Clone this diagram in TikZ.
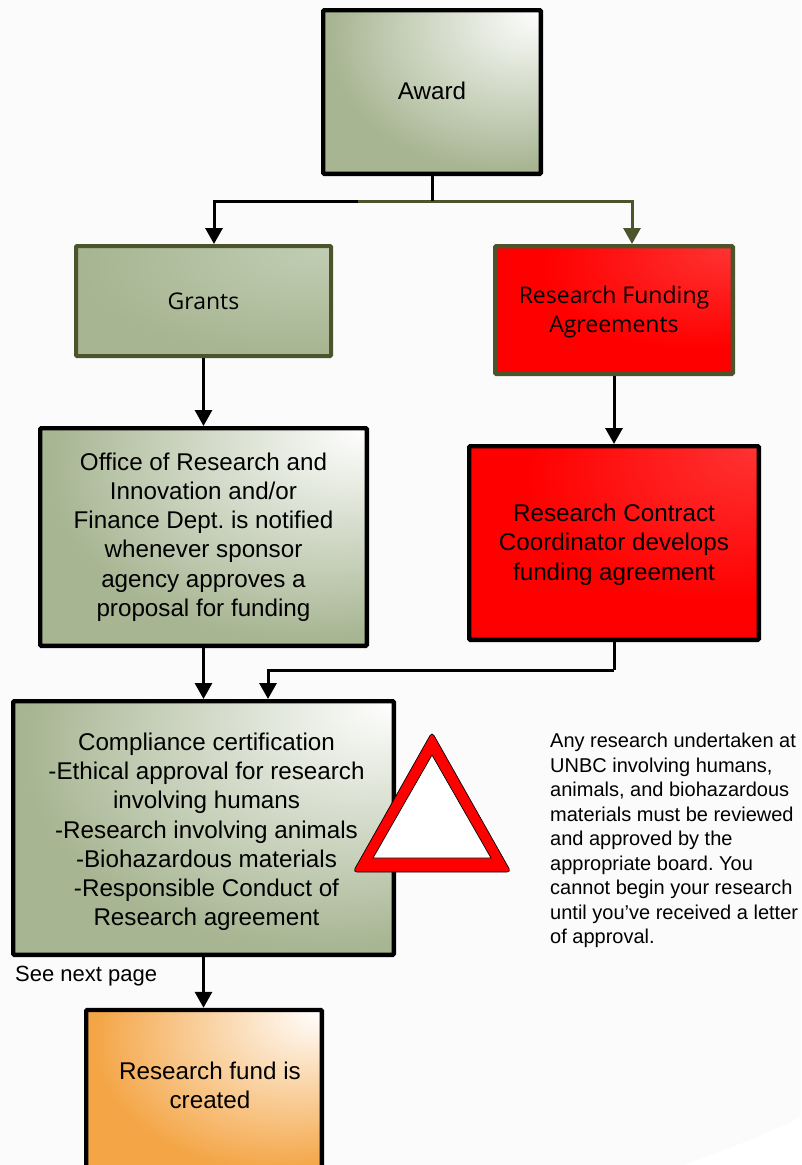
\documentclass[tikz,border=0pt]{standalone}
\usepackage{fontspec}
\setmainfont{Liberation Sans}
\newfontfamily\boxfont{Open Sans}
\usetikzlibrary{arrows.meta}
\frenchspacing
\definecolor{paper}{HTML}{FBFBFB}
\definecolor{sage}{HTML}{A7B592}
\definecolor{palesage}{HTML}{C2CEB4}
\definecolor{olive}{HTML}{4C542C}
\definecolor{amber}{HTML}{F4A545}
\definecolor{lightred}{HTML}{FF3333}
\pgfdeclareradialshading{sagefade}{\pgfpoint{25bp}{25bp}}{color(0bp)=(white); color(39bp)=(sage); color(100bp)=(sage)}
\pgfdeclareradialshading{palefade}{\pgfpoint{25bp}{25bp}}{color(0bp)=(palesage); color(39bp)=(sage); color(100bp)=(sage)}
\pgfdeclareradialshading{redfade}{\pgfpoint{25bp}{25bp}}{color(0bp)=(lightred); color(32bp)=(red); color(100bp)=(red)}
\pgfdeclareradialshading{amberfade}{\pgfpoint{25bp}{25bp}}{color(0bp)=(white); color(39bp)=(amber); color(100bp)=(amber)}
\tikzset{
	card/.style={rectangle,draw=black,line width=4.4pt,rounded corners=1pt,shade,align=center,font=\fontsize{24.2}{29.2}\selectfont},
	sagecard/.style={card,shading=sagefade},
	palecard/.style={card,shading=palefade},
	redcard/.style={card,shading=redfade},
	ambercard/.style={card,shading=amberfade},
	link/.style={line width=3pt,-{Triangle[length=16pt,width=17pt]}},
	bare/.style={line width=3pt}
}
\begin{document}
\begin{tikzpicture}[x=1pt,y=-1pt]
		\useasboundingbox (0,0) rectangle (801,1165);
		\clip (0,0) rectangle (801,1165);
		\fill[paper] (0,0) rectangle (801,1165);
		\fill[white] (685,1165) .. controls (725,1150) and (765,1135) .. (801,1117) -- (801,1165) -- cycle;

		\node[sagecard,minimum width=217.6pt,minimum height=163.6pt] (award) at (432,92) {Award\rule[-2pt]{0pt}{2pt}};
		\node[palecard,draw=olive,line width=4pt,minimum width=255pt,minimum height=110pt,font=\boxfont\fontsize{23}{29.2}\selectfont] (grants) at (203.5,301) {Grants};
		\node[redcard,draw=olive,minimum width=237.6pt,minimum height=127.6pt,font=\boxfont\fontsize{23}{29.2}\selectfont] (funding) at (614,310) {\rule{0pt}{21pt}Research Funding\\Agreements};
		\node[sagecard,minimum width=326.6pt,minimum height=217.6pt] (office) at (203.5,537) {Office of Research and\\Innovation and/or\\Finance Dept. is notified\\whenever sponsor\\agency approves a\\proposal for funding};
		\node[redcard,minimum width=289.6pt,minimum height=193.6pt] (contract) at (614,543) {\rule{0pt}{21pt}Research Contract\\Coordinator develops\\funding agreement};
		\node[sagecard,minimum width=380.6pt,minimum height=253.6pt] (compliance) at (203.5,828) {\rule{0pt}{25pt}\hspace*{6pt}Compliance certification\\\hspace*{6pt}-Ethical approval for research\\\hspace*{6pt}involving humans\\\hspace*{6pt}-Research involving animals\\\hspace*{6pt}-Biohazardous materials\\\hspace*{6pt}-Responsible Conduct of\\\hspace*{6pt}Research agreement};
		\node[ambercard,minimum width=235.6pt,minimum height=165pt] (fund) at (204,1092.5) {\hspace*{12pt}Research fund is\\\hspace*{12pt}created\rule[-15pt]{0pt}{15pt}};

		\node[anchor=north west,align=left,inner sep=0pt,font=\fontsize{20}{24.5}\selectfont] (note) at (550,733) {Any research undertaken at\\UNBC involving humans,\\animals, and biohazardous\\materials must be reviewed\\and approved by the\\appropriate board. You\\cannot begin your research\\until you’ve received a letter\\of approval.};
		\node[anchor=west,inner sep=0pt,font=\fontsize{22}{24}\selectfont] (nextpage) at (15,976) {See next page};

		\coordinate (awardjoin) at (432,201);
		\coordinate (olivestart) at (358,201);
		\coordinate (contractjoin) at (614,670);

		\draw[link] (awardjoin) -| ([xshift=10.5pt]grants.north);
		\draw[link,draw=olive,line width=3pt] (olivestart) -| ([xshift=18pt]funding.north);
		\draw[bare] (award.south) -- (awardjoin);

		\draw[link] (grants.south) -- (office.north);
		\draw[link] (funding.south) -- (contract.north);
		\draw[link] (office.south) -- (office.south |- compliance.north);
		\draw[bare] (contract.south) -- (contractjoin);
		\draw[link] (contractjoin) -| ([xshift=64.5pt]compliance.north);
		\draw[link] (compliance.south) -- (compliance.south |- fund.north);

		% warning sign
		\draw[fill=red,draw=black,line width=0.7pt,rounded corners=4pt] (432,732) -- (511,872) -- (353,872) -- cycle;
		\draw[fill=white,draw=black,line width=0.7pt] (432,755) -- (491,858) -- (373,858) -- cycle;
\end{tikzpicture}
\end{document}
